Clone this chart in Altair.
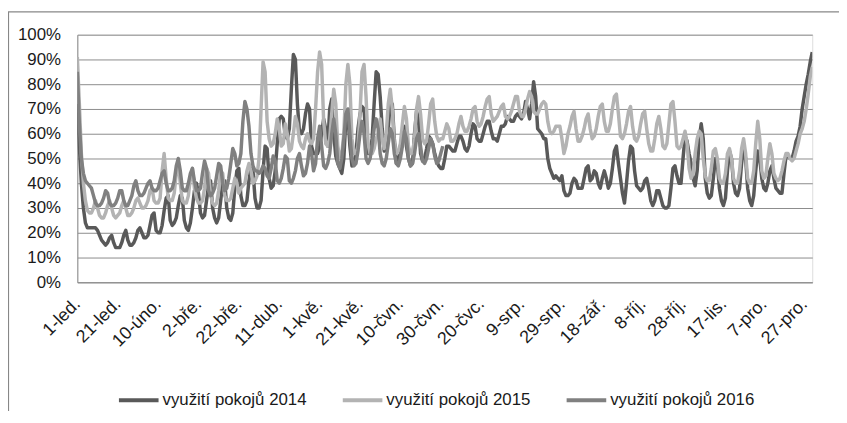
import altair as alt
import pandas as pd

# ---------------- data ----------------
tick_labels = ["1-led.", "21-led.", "10-úno.", "2-bře.", "22-bře.", "11-dub.", "1-kvě.",
               "21-kvě.", "10-čvn.", "30-čvn.", "20-čvc.", "9-srp.", "29-srp.", "18-zář.",
               "8-říj.", "28-říj.", "17-lis.", "7-pro.", "27-pro."]
tick_days = [0, 20, 40, 60, 80, 100, 120, 140, 160, 180, 200, 220, 240, 260, 280, 300, 320, 340, 360]
y_ticks = [0, 10, 20, 30, 40, 50, 60, 70, 80, 90, 100]

series_names = ["využití pokojů 2014", "využití pokojů 2015", "využití pokojů 2016"]
series_colors = ["#595959", "#b3b3b3", "#808080"]

# 2014 (daily occupancy in %), month by month
y2014_jan = [72, 55, 40, 30, 24, 22, 22, 22, 22, 22, 21, 19, 17, 16, 15, 16, 18, 19, 16, 14, 14,
             14, 16, 19, 21, 17, 15, 15, 16, 18, 21]
y2014_feb = [22, 20, 18, 18, 19, 23, 27, 28, 21, 20, 20, 23, 29, 34, 35, 25, 23, 24, 26, 31, 35,
             34, 25, 22, 21, 24, 30, 37]
y2014_mar = [40, 36, 28, 26, 27, 33, 39, 41, 30, 26, 24, 26, 33, 40, 41, 30, 26, 25, 28, 38, 45,
             46, 35, 31, 31, 33, 41, 46, 45, 34, 30]
y2014_apr = [30, 33, 45, 55, 54, 42, 38, 39, 45, 56, 66, 67, 66, 59, 58, 62, 78, 92, 90, 72, 61,
             60, 62, 68, 72, 70, 55, 52, 52, 52]
y2014_may = [55, 60, 66, 62, 55, 70, 74, 60, 51, 48, 46, 44, 50, 66, 68, 55, 47, 48, 52, 62, 68,
             71, 70, 57, 52, 52, 58, 72, 85, 84, 75]
y2014_jun = [62, 53, 54, 62, 73, 72, 58, 48, 50, 52, 60, 63, 55, 50, 47, 48, 60, 69, 66, 52, 49,
             50, 54, 59, 58, 56, 52, 49, 47, 46]
y2014_jul = [46, 50, 55, 55, 54, 53, 53, 56, 59, 59, 57, 54, 53, 55, 60, 64, 63, 58, 57, 57, 60,
             63, 65, 65, 61, 58, 58, 57, 60, 63, 63]
y2014_aug = [64, 67, 66, 65, 65, 67, 68, 67, 66, 68, 73, 70, 66, 72, 81, 75, 62, 61, 60, 58, 58,
             50, 46, 44, 42, 43, 42, 41, 43, 37, 35]
y2014_sep = [35, 36, 40, 42, 41, 38, 38, 38, 42, 46, 47, 41, 42, 45, 44, 40, 38, 42, 45, 42, 38,
             40, 46, 53, 55, 48, 42, 36, 32, 40]
y2014_oct = [49, 55, 54, 45, 39, 38, 37, 38, 41, 42, 38, 33, 31, 33, 37, 37, 34, 31, 30, 30, 31,
             38, 46, 47, 43, 40, 40, 50, 59, 57, 52]
y2014_nov = [48, 42, 39, 45, 58, 64, 58, 42, 36, 34, 35, 42, 50, 48, 38, 33, 31, 34, 45, 53, 50,
             40, 36, 35, 38, 48, 54, 50, 38, 33]
y2014_dec = [31, 35, 45, 53, 50, 42, 38, 37, 40, 45, 47, 42, 38, 37, 36, 36, 44, 51, 51, 50, 50,
             53, 57, 59, 63, 70, 75, 80, 84, 89, 93]

# 2015
y2015_jan = [91, 72, 52, 40, 33, 29, 28, 28, 30, 33, 30, 27, 26, 26, 28, 31, 33, 30, 27, 26, 27,
             28, 31, 33, 30, 27, 27, 28, 30, 33, 34]
y2015_feb = [32, 30, 30, 31, 33, 37, 38, 33, 32, 32, 34, 45, 52, 42, 34, 33, 33, 36, 44, 48, 40,
             33, 32, 32, 35, 42, 46, 38]
y2015_mar = [34, 32, 32, 33, 38, 46, 44, 35, 32, 31, 32, 37, 45, 44, 35, 33, 33, 34, 38, 42, 40,
             36, 38, 39, 40, 45, 48, 45, 40, 41, 43]
y2015_apr = [50, 70, 89, 85, 65, 58, 55, 56, 60, 66, 62, 55, 56, 64, 60, 53, 54, 60, 67, 64, 57,
             55, 54, 58, 60, 57, 56, 58, 70, 85]
y2015_may = [93, 88, 65, 56, 55, 58, 68, 78, 72, 55, 50, 52, 60, 80, 88, 80, 58, 52, 52, 55, 68,
             85, 88, 75, 56, 52, 52, 54, 58, 60, 66]
y2015_jun = [58, 54, 60, 72, 78, 70, 56, 52, 53, 56, 64, 71, 66, 55, 52, 52, 58, 70, 75, 68, 58,
             56, 57, 64, 72, 74, 65, 59, 57, 58]
y2015_jul = [58, 61, 64, 62, 57, 57, 58, 60, 64, 67, 63, 61, 61, 63, 66, 70, 71, 65, 63, 64, 67,
             71, 74, 75, 68, 65, 66, 67, 69, 71, 72]
y2015_aug = [67, 66, 67, 69, 72, 75, 75, 69, 67, 67, 70, 74, 77, 75, 69, 68, 68, 70, 72, 73, 72,
             65, 61, 60, 61, 63, 63, 63, 58, 52, 55]
y2015_sep = [60, 63, 67, 69, 62, 57, 57, 59, 62, 66, 68, 62, 58, 59, 62, 67, 71, 72, 65, 61, 61,
             64, 70, 75, 76, 68, 59, 58, 60, 64]
y2015_oct = [69, 71, 63, 58, 57, 59, 64, 68, 69, 62, 56, 53, 53, 58, 64, 67, 62, 55, 54, 56, 64,
             72, 73, 65, 55, 54, 55, 58, 61, 56, 46]
y2015_nov = [42, 44, 52, 58, 61, 60, 50, 43, 41, 41, 46, 53, 54, 50, 42, 40, 40, 44, 52, 54, 50,
             42, 40, 40, 45, 54, 58, 52, 42, 40]
y2015_dec = [40, 45, 56, 65, 58, 45, 42, 43, 50, 56, 52, 44, 42, 41, 42, 45, 49, 52, 52, 50, 49,
             50, 53, 56, 60, 62, 65, 70, 76, 83, 87]

# 2016 (January - June)
y2016_jan = [85, 64, 50, 44, 41, 40, 39, 38, 35, 32, 31, 31, 32, 34, 37, 36, 32, 31, 31, 32, 34,
             37, 37, 33, 31, 31, 33, 35, 39, 41, 37]
y2016_feb = [35, 35, 36, 38, 40, 41, 38, 37, 37, 38, 41, 44, 45, 40, 37, 37, 38, 41, 47, 50, 45,
             38, 37, 37, 40, 44, 46, 41, 37]
y2016_mar = [37, 38, 44, 49, 46, 37, 35, 36, 38, 43, 48, 47, 40, 37, 38, 42, 48, 54, 52, 47, 48,
             52, 65, 73, 70, 63, 52, 47, 45, 45, 44]
y2016_apr = [45, 47, 46, 43, 42, 46, 51, 49, 41, 40, 42, 46, 51, 50, 41, 40, 42, 45, 50, 52, 47,
             43, 44, 48, 55, 52, 45, 48, 58, 63]
y2016_may = [55, 47, 46, 48, 52, 60, 66, 60, 48, 46, 50, 58, 68, 70, 60, 50, 47, 48, 53, 60, 65,
             60, 50, 48, 50, 55, 62, 66, 62, 52, 48]
y2016_jun = [47, 50, 56, 62, 60, 52, 48, 47, 50, 55, 61, 58, 50, 47, 48, 52, 58, 60, 55, 49, 48,
             50, 54, 58, 56, 51, 48, 49, 52, 55]

values_2014 = (y2014_jan + y2014_feb + y2014_mar + y2014_apr + y2014_may + y2014_jun +
               y2014_jul + y2014_aug + y2014_sep + y2014_oct + y2014_nov + y2014_dec)
values_2015 = (y2015_jan + y2015_feb + y2015_mar + y2015_apr + y2015_may + y2015_jun +
               y2015_jul + y2015_aug + y2015_sep + y2015_oct + y2015_nov + y2015_dec)
values_2016 = y2016_jan + y2016_feb + y2016_mar + y2016_apr + y2016_may + y2016_jun

rows = []
for order, (name, vals) in enumerate(zip(series_names, [values_2014, values_2015, values_2016])):
    for day, v in enumerate(vals):
        rows.append({"day": day, "value": v, "series": name, "order": order})
df = pd.DataFrame(rows)

# ---------------- chart ----------------
W, H = 742, 250
FONT = "Liberation Sans"
TEXT = "#1a1a1a"
GRID = "#8c8c8c"

label_js = "[" + ",".join("'" + t + "'" for t in tick_labels) + "]"

lines = alt.Chart(df).mark_line(strokeWidth=3.5, strokeJoin="round", clip=True).encode(
    x=alt.X("day:Q",
            scale=alt.Scale(domain=[0, 364], nice=False, zero=False),
            axis=alt.Axis(values=tick_days, labelExpr=label_js + "[round(datum.value / 20)]",
                          labelAngle=-45, labelAlign="right", labelBaseline="middle",
                          labelPadding=19, ticks=False, grid=False, domain=True,
                          domainColor=GRID, labelFont=FONT, labelFontSize=18,
                          labelColor=TEXT, title=None, labelOverlap=False)),
    y=alt.Y("value:Q",
            scale=alt.Scale(domain=[0, 100], nice=False),
            axis=alt.Axis(values=y_ticks, labelExpr="datum.value + '%'", ticks=False,
                          grid=True, gridColor=GRID, gridWidth=1, domain=True,
                          domainColor=GRID, labelFont=FONT, labelFontSize=17,
                          labelColor=TEXT, labelPadding=17, title=None)),
    color=alt.Color("series:N",
                    scale=alt.Scale(domain=series_names, range=series_colors),
                    legend=alt.Legend(orient="none", legendX=40, legendY=347,
                                      direction="horizontal", title=None,
                                      symbolType="stroke", symbolSize=1600,
                                      symbolStrokeWidth=4, labelFont=FONT,
                                      labelFontSize=17, labelColor=TEXT,
                                      labelOffset=2, columnPadding=28)),
    order=alt.Order("order:Q"),
    detail="series:N",
)

frame_top = alt.Chart().mark_rule(color="#878787", strokeWidth=1.2).encode(
    x=alt.value(-70), x2=alt.value(W + 30), y=alt.value(-23))
frame_left = alt.Chart().mark_rule(color="#878787", strokeWidth=1.2).encode(
    x=alt.value(-69.5), y=alt.value(-23), y2=alt.value(H + 200))

chart = alt.layer(frame_top, frame_left, lines).properties(
    width=W, height=H,
    autosize=alt.AutoSizeParams(type="none"),
    padding={"left": 70, "top": 25, "right": 27, "bottom": 128},
).configure_view(stroke=None).configure(background="white")

chart.save("out.html", embed_options={"renderer": "svg", "actions": False})
